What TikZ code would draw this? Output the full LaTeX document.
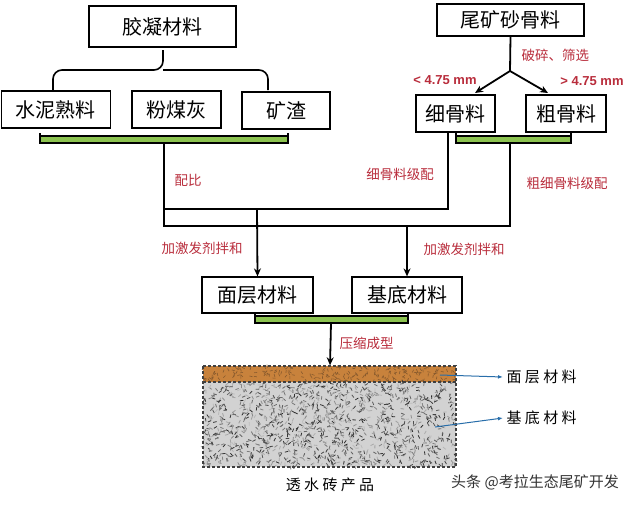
\documentclass[tikz,border=0pt]{standalone}
\usepackage{fontspec}
\newfontfamily\cjk{Noto Sans CJK SC}
\setmainfont{Liberation Sans}
\usetikzlibrary{arrows.meta,decorations.pathreplacing}
\definecolor{lblred}{RGB}{185,45,60}
\definecolor{barg}{RGB}{140,195,80}
\definecolor{slabo}{RGB}{200,130,60}
\definecolor{arrb}{RGB}{40,110,170}
\begin{document}
\begin{tikzpicture}[x=1pt,y=-1pt,
  box/.style={draw,line width=1.2pt,inner sep=0pt,font=\cjk\fontsize{20}{20}\selectfont},
  lbl/.style={text=lblred,font=\cjk\fontsize{13.5}{14}\selectfont},
  ln/.style={line width=1.8pt},
  arr/.style={line width=1.8pt,-{Stealth[length=8pt,width=7pt]}},
  gbar/.style={line width=1.3pt,fill=barg}]
\useasboundingbox (0,0) rectangle (640,509);
\fill[white] (0,0) rectangle (640,509);
% boxes
\node[box,minimum width=147,minimum height=41] (jn) at (162.5,26.5) {胶凝材料};
\node[box,minimum width=109,minimum height=37] (sn) at (56,109.5) {水泥熟料};
\node[box,minimum width=89,minimum height=37] (fm) at (176.5,109.5) {粉煤灰};
\node[box,minimum width=88,minimum height=37] (kz) at (286,110.5) {矿渣};
\node[box,minimum width=147,minimum height=32] (wk) at (510.5,20) {尾矿砂骨料};
\node[box,minimum width=79,minimum height=37] (xg) at (455.5,113.5) {细骨料};
\node[box,minimum width=80,minimum height=37] (cg) at (566,113.5) {粗骨料};
\node[box,minimum width=111,minimum height=36] (mc) at (257.5,295) {面层材料};
\node[box,minimum width=110,minimum height=36] (jd) at (407,295) {基底材料};
% brace
\draw[ln,line width=1.6pt,rounded corners=9pt] (53,90) -- (53,70) -- (163,70) -- (163,50);
\draw[ln,line width=1.6pt,rounded corners=9pt] (268,90) -- (268,70) -- (163,70);
% green bars
\draw[gbar] (40,136) rectangle (288,143);
\draw[gbar] (456,136) rectangle (571,143);
\draw[gbar] (255,316) rectangle (408,323);
\draw[line width=1.3pt] (40,133)--(40,143) (288,133)--(288,143) (456,133)--(456,143) (571,133)--(571,143) (255,313)--(255,323) (408,313)--(408,323);
% split
\coordinate (sp) at (510,71);
\draw[ln] (wk.south) -- (sp);
\draw[arr] (sp) -- (475,93);
\draw[arr] (sp) -- (548,93);
\node[lbl,anchor=west] at (518,55) {破碎、筛选};
\node[anchor=center,text=lblred,font=\fontsize{13}{13}\selectfont\bfseries] at (445,80) {< 4.75 mm};
\node[anchor=center,text=lblred,font=\fontsize{13}{13}\selectfont\bfseries] at (592,81) {> 4.75 mm};
% network
\coordinate (a1) at (164,143); \coordinate (a2) at (164,226);
\coordinate (b1) at (448,132); \coordinate (b2) at (448,209);
\coordinate (c1) at (510,143); \coordinate (c2) at (510,226);
\coordinate (h1) at (164,209);
\coordinate (d1) at (257,209); \coordinate (e1) at (407,226);
\draw[ln] (a1) -- (a2) -- (c2) -- (c1);
\draw[ln] (h1) -- (b2) -- (b1);
\draw[arr] (d1) -- (mc.north);
\draw[arr] (e1) -- (jd.north);
\node[lbl] at (188,180) {配比};
\node[lbl] at (400,174) {细骨料级配};
\node[lbl] at (567,183) {粗细骨料级配};
\node[lbl] at (202,248) {加激发剂拌和};
\node[lbl] at (464,249) {加激发剂拌和};
% slab
\coordinate (s1) at (331,323);
\fill[gray!35] (203,382) rectangle (456,467);
\fill[slabo] (203,366) rectangle (456,382);
\pgfmathsetseed{7}
\foreach \i in {1,...,1300}{
  \pgfmathsetmacro\px{204+251*rnd}
  \pgfmathsetmacro\py{383+83*rnd}
  \pgfmathsetmacro\ang{360*rnd}
  \pgfmathsetmacro\sh{25+60*rnd}
  \draw[black!\sh,line width=0.8pt] (\px,\py) -- ++(\ang:3.5);
}
\foreach \i in {1,...,200}{
  \pgfmathsetmacro\px{204+251*rnd}
  \pgfmathsetmacro\py{367+14*rnd}
  \pgfmathsetmacro\ang{360*rnd}
  \draw[brown!70!black,line width=0.6pt] (\px,\py) -- ++(\ang:3);
}
\draw[line width=1.2pt,dash pattern=on 3pt off 2pt,black!75] (203,366) rectangle (456,467) (203,382) -- (456,382);
\node[inner sep=0] (sl) at (330,366) {};
\draw[arr] (s1) -- (sl);
\node[lbl,anchor=west] at (336,343) {压缩成型};
\node[font=\cjk\fontsize{15}{15}\selectfont,anchor=west] (t1) at (503,377) {面 层 材 料};
\node[font=\cjk\fontsize{15}{15}\selectfont,anchor=west] (t2) at (503,418) {基 底 材 料};
\coordinate (p1) at (440,375); \coordinate (p2) at (435,427);
\draw[arrb,line width=1pt,-{Latex[length=5pt]}] (p1) -- (t1.west);
\draw[arrb,line width=1pt,-{Latex[length=5pt]}] (p2) -- (t2.west);
\node[font=\cjk\fontsize{15}{15}\selectfont] at (330,485) {透 水 砖 产 品};
\node[font=\cjk\fontsize{15}{15}\selectfont,text=black!80] at (535,482) {头条 @考拉生态尾矿开发};
\end{tikzpicture}
\end{document}
